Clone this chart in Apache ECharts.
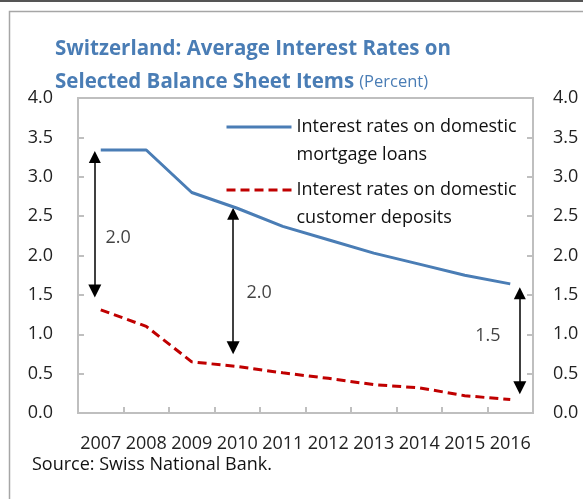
<!DOCTYPE html>
<html>
<head>
<meta charset="utf-8">
<script src="https://cdn.jsdelivr.net/npm/echarts@6/dist/echarts.min.js"></script>
<style>
  html, body { margin: 0; padding: 0; background: #fff; }
  #chart { width: 583px; height: 499px; }
</style>
</head>
<body>
<div id="chart"></div>
<script>
  // data
  const years = ['2007', '2008', '2009', '2010', '2011', '2012', '2013', '2014', '2015', '2016'];
  const mortgage = [3.34, 3.34, 2.80, 2.60, 2.37, 2.20, 2.03, 1.89, 1.75, 1.64];
  const deposits = [1.31, 1.10, 0.65, 0.59, 0.51, 0.44, 0.36, 0.32, 0.22, 0.17];
  // spread arrows: [x position in category units, shaft top, shaft bottom]
  const spreadArrows = [[0.37, 3.25, 1.55], [3.41, 2.53, 0.83], [9.71, 1.52, 0.32]];
  // spread labels: [x, y, text]
  const spreadLabels = [[0.88, 2.23, '2.0'], [3.98, 1.52, '2.0'], [9.01, 0.98, '1.5']];

  const mortgageName = 'Interest rates on domestic\nmortgage loans';
  const depositName = 'Interest rates on domestic\ncustomer deposits';

  const blue = '#4a7db5';
  const red = '#c00000';
  const axisGray = '#bfbfbf';
  const font = "'Open Sans', 'Noto Sans', sans-serif";

  const chart = echarts.init(document.getElementById('chart'), null, { renderer: 'canvas' });

  const yAxisBase = {
    type: 'value',
    min: 0,
    max: 4,
    interval: 0.5,
    splitLine: { show: false },
    axisLine: { show: false },
    axisTick: { show: true, inside: true, length: 6, lineStyle: { color: axisGray, width: 2 } },
    axisLabel: {
      color: '#222',
      fontSize: 18,
      fontFamily: font,
      formatter: v => v.toFixed(1)
    }
  };

  const legendBase = {
    orient: 'vertical',
    left: 225,
    padding: 0,
    itemWidth: 65,
    itemHeight: 14,
    selectedMode: false,
    itemStyle: { opacity: 0 },
    lineStyle: { width: 3 },
    // blank first line so the icon sits next to the first text line
    formatter: name => ' \n' + name,
    textStyle: {
      color: '#111',
      fontSize: 18,
      fontFamily: font,
      lineHeight: 28
    }
  };

  chart.setOption({
    animation: false,
    backgroundColor: '#fff',
    title: [
      {
        left: 55,
        top: 33,
        padding: 0,
        text: '{b|Switzerland: Average Interest Rates on}\n{b|Selected Balance Sheet Items} {p|(Percent)}',
        textStyle: {
          rich: {
            b: { fontFamily: font, fontWeight: 'bold', fontSize: 20.5, color: blue, lineHeight: 33 },
            p: { fontFamily: font, fontWeight: 'normal', fontSize: 16.5, color: blue, lineHeight: 33 }
          }
        }
      },
      {
        left: 32,
        top: 456,
        padding: 0,
        text: 'Source: Swiss National Bank.',
        textStyle: { fontFamily: font, fontWeight: 'normal', fontSize: 18, color: '#111' }
      }
    ],
    legend: [
      Object.assign({}, legendBase, { top: 85, data: [mortgageName] }),
      Object.assign({}, legendBase, { top: 148, data: [depositName] })
    ],
    grid: {
      left: 78,
      top: 98,
      width: 455,
      height: 315,
      show: true,
      borderColor: axisGray,
      borderWidth: 2,
      backgroundColor: 'transparent'
    },
    xAxis: [
      {
        type: 'category',
        data: years,
        boundaryGap: true,
        axisLine: { show: false },
        axisTick: { show: true, inside: true, length: 6, lineStyle: { color: axisGray, width: 2 } },
        axisLabel: { color: '#222', fontSize: 18, fontFamily: font, margin: 22, interval: 0 }
      },
      {
        type: 'value',
        min: 0,
        max: 10,
        show: false
      }
    ],
    yAxis: [
      Object.assign({}, yAxisBase, { position: 'left', axisLabel: Object.assign({}, yAxisBase.axisLabel, { margin: 25 }) }),
      Object.assign({}, yAxisBase, { position: 'right', axisLabel: Object.assign({}, yAxisBase.axisLabel, { margin: 20 }) })
    ],
    series: [
      {
        name: mortgageName,
        type: 'line',
        data: mortgage,
        symbol: 'none',
        lineStyle: { color: blue, width: 3 },
        itemStyle: { color: blue }
      },
      {
        name: depositName,
        type: 'line',
        data: deposits,
        symbol: 'none',
        lineStyle: { color: red, width: 3, type: [9, 5] },
        itemStyle: { color: red }
      },
      {
        type: 'lines',
        coordinateSystem: 'cartesian2d',
        xAxisIndex: 1,
        yAxisIndex: 0,
        symbol: ['triangle', 'triangle'],
        symbolSize: [12, 13],
        lineStyle: { color: '#000', width: 1.5, opacity: 1 },
        data: spreadArrows.map(a => ({ coords: [[a[0], a[1]], [a[0], a[2]]] })),
        silent: true
      },
      {
        type: 'scatter',
        xAxisIndex: 1,
        yAxisIndex: 0,
        symbolSize: 0,
        data: spreadLabels.map(l => [l[0], l[1], l[2]]),
        label: {
          show: true,
          position: 'inside',
          color: '#111',
          fontSize: 18,
          fontFamily: font,
          formatter: p => p.value[2]
        },
        silent: true
      }
    ],
    graphic: [
      {
        type: 'line',
        shape: { x1: 0, y1: 1, x2: 583, y2: 1 },
        style: { stroke: '#555', lineWidth: 2 }
      },
      {
        type: 'rect',
        shape: { x: 9.5, y: 11.5, width: 600, height: 520 },
        style: { fill: 'none', stroke: '#a6a6a6', lineWidth: 1.5 }
      }
    ]
  });
</script>
</body>
</html>
